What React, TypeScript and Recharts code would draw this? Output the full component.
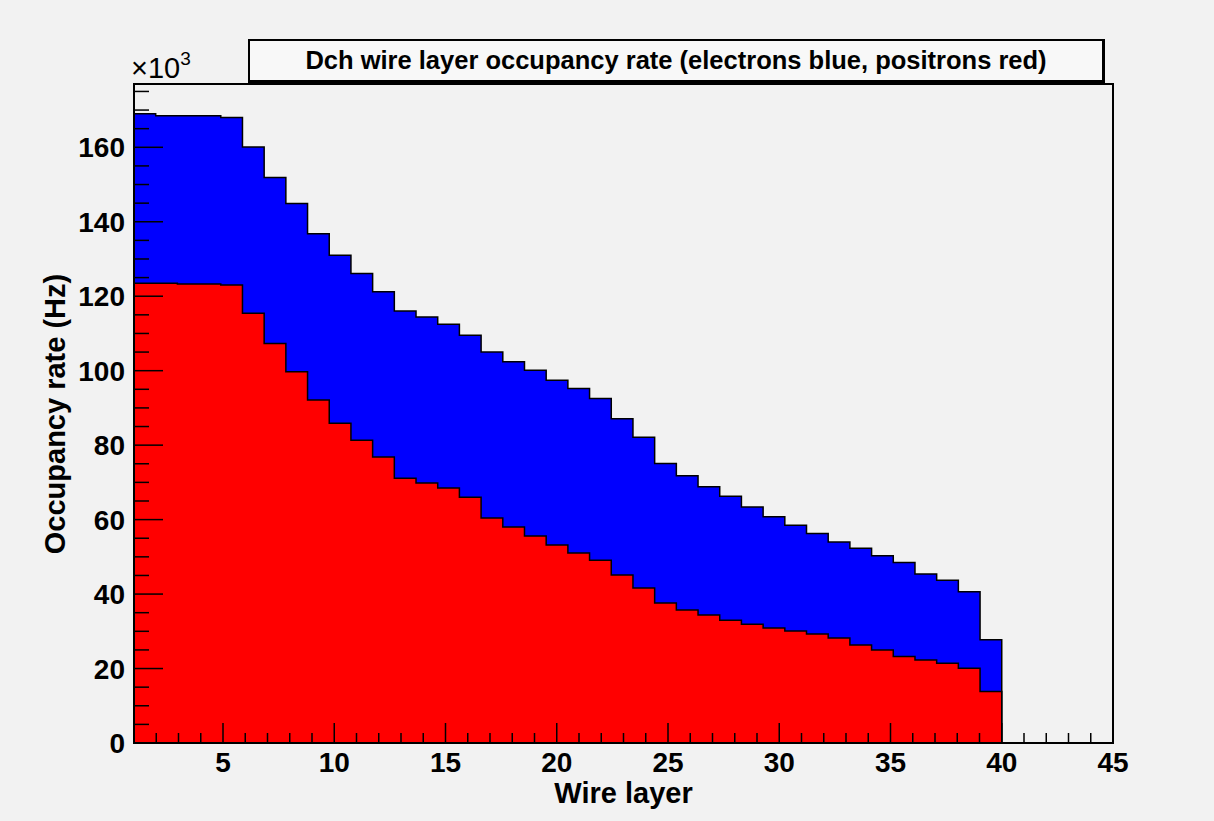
import { Area, ComposedChart, XAxis, YAxis } from 'recharts';

// Occupancy rate per drift-chamber wire layer, in units of 10^3 Hz
const layers = [
    1, 2, 3, 4, 5, 6, 7, 8, 9, 10, 11, 12, 13, 14, 15, 16, 17, 18, 19, 20,
    21, 22, 23, 24, 25, 26, 27, 28, 29, 30, 31, 32, 33, 34, 35, 36, 37, 38, 39, 40,
];
const electrons = [
    169.0, 168.5, 168.5, 168.5, 168.0, 160.1, 151.9, 144.9, 136.8, 131.0,
    126.1, 121.2, 116.0, 114.4, 112.5, 109.5, 105.0, 102.4, 100.1, 97.4,
    95.2, 92.5, 87.1, 82.1, 75.1, 71.8, 68.8, 66.3, 63.4, 60.8,
    58.5, 56.3, 54.0, 52.3, 50.3, 48.5, 45.4, 43.7, 40.6, 27.7,
];
const positrons = [
    123.5, 123.5, 123.3, 123.3, 123.0, 115.4, 107.3, 99.7, 92.1, 85.9,
    81.3, 76.8, 71.1, 69.8, 68.5, 66.0, 60.4, 58.0, 55.6, 53.2,
    51.0, 49.1, 45.1, 41.6, 37.6, 35.7, 34.4, 33.0, 31.9, 30.9,
    30.1, 29.3, 28.2, 26.3, 25.0, 23.2, 22.3, 21.4, 20.1, 13.8,
];

// histogram binning: 40 bins between layer 1 and layer 40
const HIST_MIN = 1;
const HIST_MAX = 40;

const xTicks = [
    1, 2, 3, 4, 5, 6, 7, 8, 9, 10, 11, 12, 13, 14, 15, 16, 17, 18, 19, 20, 21, 22, 23,
    24, 25, 26, 27, 28, 29, 30, 31, 32, 33, 34, 35, 36, 37, 38, 39, 40, 41, 42, 43, 44, 45,
];
const xLabels = [5, 10, 15, 20, 25, 30, 35, 40, 45];
const yTicks = [
    0, 5, 10, 15, 20, 25, 30, 35, 40, 45, 50, 55, 60, 65, 70, 75, 80, 85,
    90, 95, 100, 105, 110, 115, 120, 125, 130, 135, 140, 145, 150, 155, 160, 165, 170, 175,
];
const yLabels = [0, 20, 40, 60, 80, 100, 120, 140, 160];

const W = 1214;
const H = 821;
const PLOT_LEFT = 134;
const PLOT_RIGHT = 1113;
const PLOT_TOP = 84;
const PLOT_BOTTOM = 743;
const FONT = '"Liberation Sans", Arial, Helvetica, sans-serif';
const BG = '#f2f2f2';

const binWidth = (HIST_MAX - HIST_MIN) / layers.length;
const rows = [
    ...layers.map((_, i) => ({
        edge: HIST_MIN + i * binWidth,
        electrons: electrons[i],
        positrons: positrons[i],
    })),
    { edge: HIST_MAX, electrons: 0, positrons: 0 },
];

// ticks point into the frame, labels only on the major ones
const XTick = (props: any) => {
    const { x, payload } = props;
    const major = xLabels.includes(payload.value);
    return (
        <g>
            <line x1={x} x2={x} y1={PLOT_BOTTOM} y2={PLOT_BOTTOM - (major ? 20 : 10)} stroke="#000" strokeWidth={1.5} />
            {major && (
                <text x={x} y={PLOT_BOTTOM + 29} textAnchor="middle" fontFamily={FONT} fontWeight="bold" fontSize={28} fill="#000">
                    {payload.value}
                </text>
            )}
        </g>
    );
};

const YTick = (props: any) => {
    const { y, payload } = props;
    const major = yLabels.includes(payload.value);
    return (
        <g>
            <line x1={PLOT_LEFT} x2={PLOT_LEFT + (major ? 29 : 15)} y1={y} y2={y} stroke="#000" strokeWidth={1.5} />
            {major && (
                <text x={PLOT_LEFT - 9} y={y + 10} textAnchor="end" fontFamily={FONT} fontWeight="bold" fontSize={28} fill="#000">
                    {payload.value}
                </text>
            )}
        </g>
    );
};

export default function App() {
    return (
        <div style={{ position: 'relative', width: W, height: H, background: BG, overflow: 'hidden' }}>
            <style>{'body { margin: 0; }'}</style>
            <ComposedChart
                width={W}
                height={H}
                data={rows}
                margin={{ top: PLOT_TOP, right: W - PLOT_RIGHT, bottom: 0, left: 0 }}
            >
                <Area
                    dataKey="electrons"
                    type="stepAfter"
                    fill="#0000ff"
                    fillOpacity={1}
                    stroke="#000"
                    strokeWidth={1.5}
                    dot={false}
                    activeDot={false}
                    isAnimationActive={false}
                />
                <Area
                    dataKey="positrons"
                    type="stepAfter"
                    fill="#ff0000"
                    fillOpacity={1}
                    stroke="#000"
                    strokeWidth={1.5}
                    dot={false}
                    activeDot={false}
                    isAnimationActive={false}
                />
                <XAxis
                    dataKey="edge"
                    type="number"
                    domain={[1, 45]}
                    ticks={xTicks}
                    interval={0}
                    height={H - PLOT_BOTTOM}
                    axisLine={false}
                    tickLine={false}
                    tick={XTick}
                    allowDataOverflow
                />
                <YAxis
                    type="number"
                    domain={[0, 177]}
                    ticks={yTicks}
                    interval={0}
                    width={PLOT_LEFT}
                    axisLine={false}
                    tickLine={false}
                    tick={YTick}
                    allowDataOverflow
                />
            </ComposedChart>

            {/* frame around the plot area */}
            <div
                style={{
                    position: 'absolute',
                    left: PLOT_LEFT - 1,
                    top: PLOT_TOP - 1,
                    width: PLOT_RIGHT - PLOT_LEFT + 2,
                    height: PLOT_BOTTOM - PLOT_TOP + 2,
                    border: '2px solid #000',
                    boxSizing: 'border-box',
                    pointerEvents: 'none',
                }}
            />

            {/* title pave */}
            <div
                style={{
                    position: 'absolute',
                    left: 248,
                    top: 39,
                    width: 857,
                    height: 44,
                    boxSizing: 'border-box',
                    border: '2px solid #000',
                    borderRightWidth: 3,
                    borderBottomWidth: 3,
                    background: '#f8f8f8',
                    display: 'flex',
                    alignItems: 'center',
                    justifyContent: 'center',
                    fontFamily: FONT,
                    fontWeight: 'bold',
                    fontSize: 25.5,
                    color: '#000',
                    whiteSpace: 'nowrap',
                }}
            >
                Dch wire layer occupancy rate (electrons blue, positrons red)
            </div>

            {/* axis exponent */}
            <div
                style={{
                    position: 'absolute',
                    left: 131,
                    top: 52,
                    fontFamily: FONT,
                    fontSize: 29,
                    lineHeight: '32px',
                    color: '#000',
                    whiteSpace: 'nowrap',
                }}
            >
                ×10<sup style={{ fontSize: 19, verticalAlign: 'top', position: 'relative', top: -9 }}>3</sup>
            </div>

            {/* axis titles */}
            <div
                style={{
                    position: 'absolute',
                    left: PLOT_LEFT,
                    width: PLOT_RIGHT - PLOT_LEFT,
                    top: 779,
                    textAlign: 'center',
                    fontFamily: FONT,
                    fontWeight: 'bold',
                    fontSize: 29,
                    lineHeight: '29px',
                    color: '#000',
                }}
            >
                Wire layer
            </div>
            <div
                style={{
                    position: 'absolute',
                    left: 55,
                    top: (PLOT_TOP + PLOT_BOTTOM) / 2,
                    transform: 'translate(-50%, -50%) rotate(-90deg)',
                    fontFamily: FONT,
                    fontWeight: 'bold',
                    fontSize: 29,
                    lineHeight: '34px',
                    color: '#000',
                    whiteSpace: 'nowrap',
                }}
            >
                Occupancy rate (Hz)
            </div>
        </div>
    );
}
